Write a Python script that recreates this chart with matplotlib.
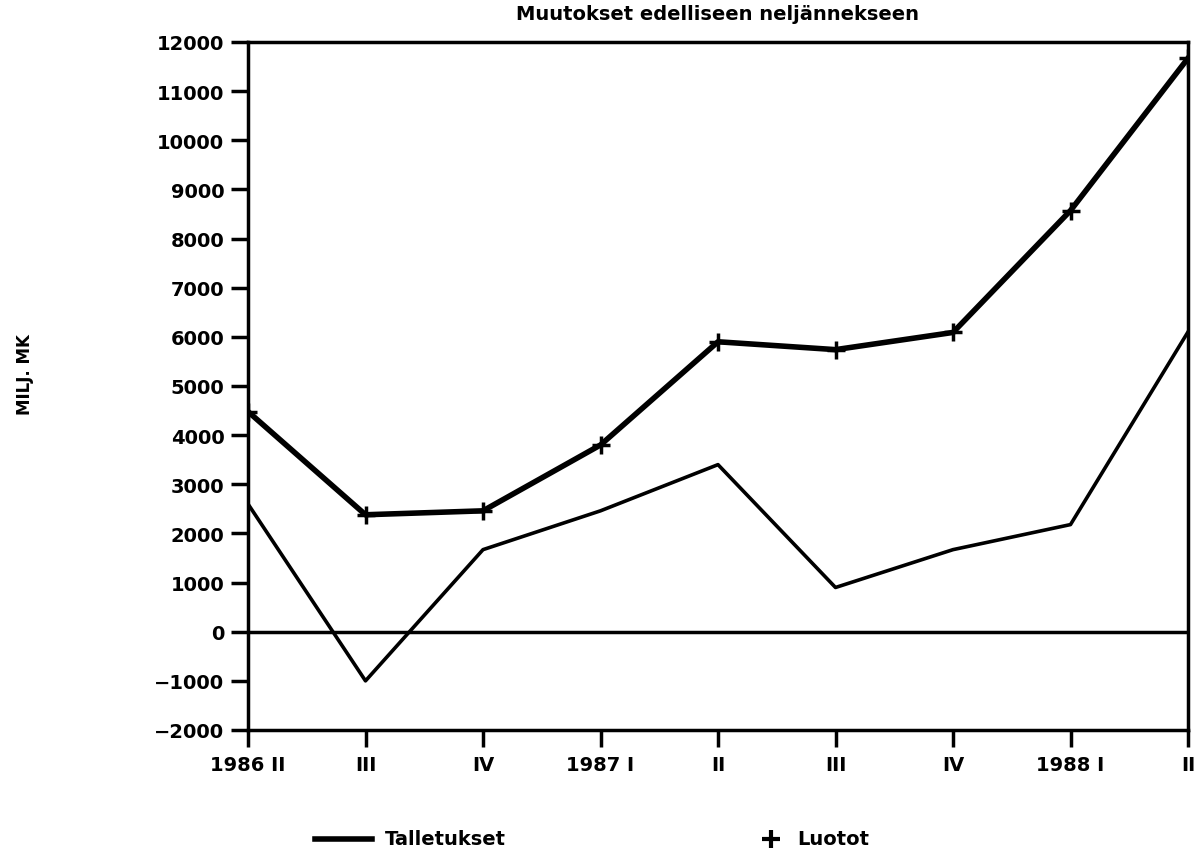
import matplotlib
matplotlib.use("Agg")
import matplotlib.pyplot as plt
from matplotlib.lines import Line2D

quarters = ["1986 II", "III", "IV", "1987 I", "II", "III", "IV", "1988 I", "II"]
talletukset = [2600, -1000, 1670, 2460, 3400, 900, 1670, 2180, 6100]
luotot = [4480, 2380, 2460, 3800, 5900, 5740, 6090, 8570, 11670]
yticks = list(range(-2000, 12001, 1000))

plt.rcParams['font.family'] = ['DejaVu Sans']
plt.rcParams['font.weight'] = 'bold'

fig = plt.figure(figsize=(12.01, 8.54), dpi=100)
ax = fig.add_axes([248/1201, 1-731/854, (1188-248)/1201, (731-43)/854])

x = list(range(len(quarters)))
ax.plot(x, talletukset, color='black', lw=2.6)
ax.plot(x, luotot, color='black', lw=4, marker='+', markersize=13, markeredgewidth=2.5)
ax.axhline(0, color='black', lw=2.5)

ax.set_xlim(0, len(quarters)-1)
ax.set_ylim(-2000, 12000)
ax.set_yticks(yticks)
ax.set_yticklabels([f"{v}".replace('-', '\u2212') for v in yticks], fontsize=14, fontweight='bold')
ax.set_xticks(x)
ax.set_xticklabels(quarters, fontsize=14, fontweight='bold')
ax.tick_params(axis='both', direction='out', length=12, width=2.5)
ax.tick_params(axis='y', pad=5)
ax.tick_params(axis='x', pad=6)
for s in ax.spines.values():
    s.set_linewidth(2.5)

fig.text(718/1201, 1-14/854, "Muutokset edelliseen neljännekseen", ha='center', va='center',
         fontsize=14, fontweight='bold')
fig.text(25/1201, 1-375/854, "MILJ. MK", rotation=90, ha='center', va='center',
         fontsize=12, fontweight='bold')

# legend
ly = 1-840/854
fig.add_artist(Line2D([315/1201, 372/1201], [ly, ly], color='black', lw=4, transform=fig.transFigure))
fig.text(385/1201, ly, "Talletukset", ha='left', va='center', fontsize=14, fontweight='bold')
fig.add_artist(Line2D([771/1201], [ly], color='black', marker='+', markersize=13, markeredgewidth=3,
                      transform=fig.transFigure))
fig.text(797/1201, ly, "Luotot", ha='left', va='center', fontsize=14, fontweight='bold')

fig.savefig("out.png", dpi=100)
